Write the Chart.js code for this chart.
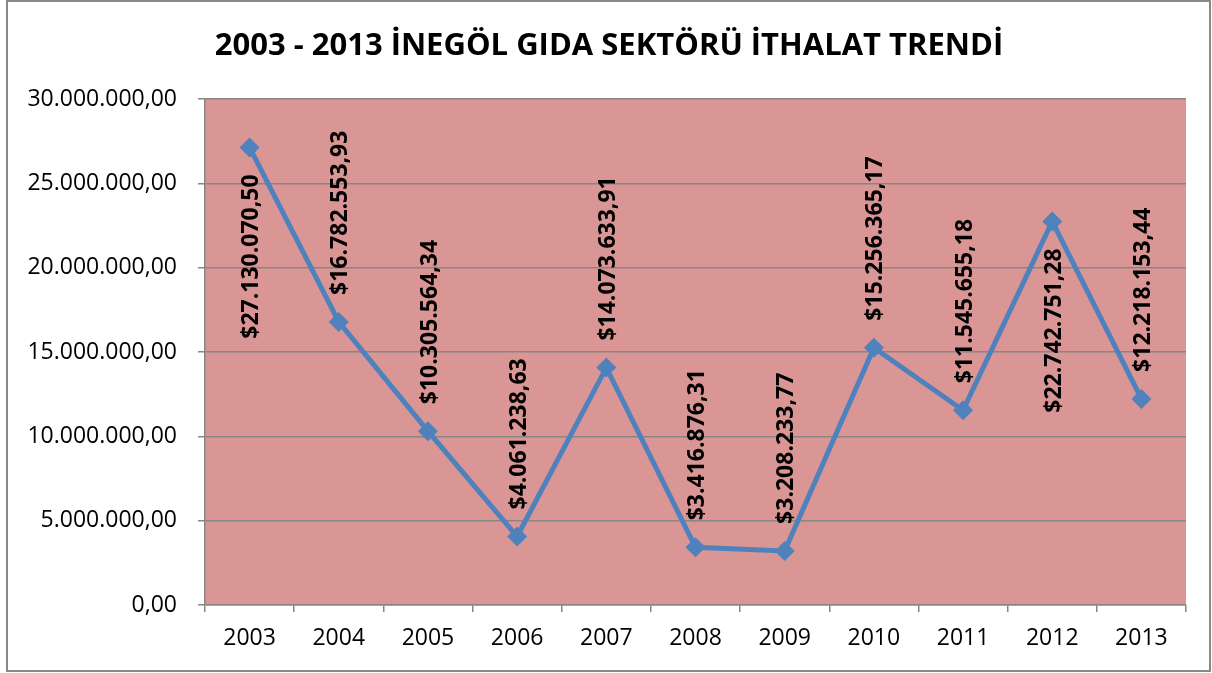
<!DOCTYPE html>
<html>
<head>
<meta charset="utf-8">
<script src="https://cdn.jsdelivr.net/npm/chart.js@4.4.1/dist/chart.umd.min.js"></script>
<style>
  body { margin: 0; background: #fff; overflow: hidden; }
  #wrap { width: 1212px; height: 673px; position: relative; }
</style>
</head>
<body>
<div id="wrap"><canvas id="trendChart"></canvas></div>
<script>
// yıllar ve ithalat değerleri (USD)
var years = ["2003", "2004", "2005", "2006", "2007", "2008", "2009", "2010", "2011", "2012", "2013"];
var importValues = [27130070.50, 16782553.93, 10305564.34, 4061238.63, 14073633.91, 3416876.31,
                    3208233.77, 15256365.17, 11545655.18, 22742751.28, 12218153.44];
var yMin = 0;
var yMax = 30000000;
var yStep = 5000000;
var chartTitle = "2003 - 2013 İNEGÖL GIDA SEKTÖRÜ İTHALAT TRENDİ";

function trNumber(v) {
    var parts = v.toFixed(2).split(".");
    var intPart = parts[0].replace(/\B(?=(\d{3})+(?!\d))/g, ".");
    return intPart + "," + parts[1];
}

var FONT = "'Open Sans', 'Liberation Sans', sans-serif";

// dış çerçeve + çizim alanı arka planı
var backgroundPlugin = {
    id: "background",
    afterLayout: function (chart) {
        // başlığı biraz sağa kaydır (orijinaldeki gibi)
        if (chart.titleBlock) chart.titleBlock.left = 32;
    },
    beforeDraw: function (chart) {
        var ctx = chart.ctx, a = chart.chartArea;
        ctx.save();
        ctx.strokeStyle = "#898989";
        ctx.lineWidth = 2;
        ctx.strokeRect(7, 1, 1203, 670);
        ctx.fillStyle = "#D99694";
        ctx.fillRect(a.left, a.top, a.right - a.left, a.bottom - a.top);
        ctx.restore();
    }
};

// dikey veri etiketleri
var labelPlugin = {
    id: "valueLabels",
    afterDatasetsDraw: function (chart) {
        var ctx = chart.ctx, a = chart.chartArea;
        var meta = chart.getDatasetMeta(0);
        ctx.save();
        ctx.font = "bold 23px " + FONT;
        ctx.fillStyle = "#000";
        ctx.textBaseline = "middle";
        meta.data.forEach(function (pt, i) {
            var txt = "$" + trNumber(importValues[i]);
            var w = ctx.measureText(txt).width;
            var gap = 27;
            var start;
            if (pt.y - gap - w >= a.top) {
                start = pt.y - gap;       // nokta üstünde
            } else {
                start = pt.y + gap + w;   // nokta altında
            }
            ctx.save();
            ctx.translate(pt.x + 2, start);
            ctx.rotate(-Math.PI / 2);
            ctx.textAlign = "left";
            ctx.fillText(txt, 0, 0);
            ctx.restore();
        });
        ctx.restore();
    }
};

var ctx = document.getElementById("trendChart").getContext("2d");
var chart = new Chart(ctx, {
    type: "line",
    data: {
        labels: years,
        datasets: [
            {
                label: "İthalat",
                data: importValues,
                borderColor: "#4F81BD",
                backgroundColor: "#4F81BD",
                borderWidth: 5,
                pointStyle: "rectRot",
                pointRadius: 10,
                pointHoverRadius: 10,
                pointBackgroundColor: "#4F81BD",
                pointBorderColor: "#4F81BD",
                pointBorderWidth: 0,
                tension: 0
            }
        ]
    },
    options: {
        responsive: true,
        maintainAspectRatio: false,
        animation: false,
        layout: { padding: { left: 8, right: 26, top: 0, bottom: 0 } },
        plugins: {
            legend: { display: false },
            tooltip: { enabled: false },
            title: {
                display: true,
                text: chartTitle,
                color: "#000",
                font: { family: FONT, size: 31, weight: "bold", lineHeight: 1.2 },
                padding: { top: 28, bottom: 33.8 }
            }
        },
        scales: {
            x: {
                offset: true,
                afterFit: function (scale) { scale.height = 68; },
                grid: {
                    offset: true,
                    drawOnChartArea: false,
                    drawTicks: true,
                    tickLength: 7,
                    color: "#868686",
                    lineWidth: 1.5
                },
                border: { display: true, color: "#868686", width: 1.5 },
                ticks: {
                    color: "#000",
                    padding: 13,
                    maxRotation: 0,
                    font: { family: FONT, size: 23 }
                }
            },
            y: {
                min: yMin,
                max: yMax,
                afterFit: function (scale) { scale.width = 197; },
                grid: {
                    color: "#868686",
                    lineWidth: 1.5,
                    drawTicks: true,
                    tickLength: 7
                },
                border: { display: true, color: "#868686", width: 1.5 },
                ticks: {
                    stepSize: yStep,
                    color: "#000",
                    padding: 21,
                    font: { family: FONT, size: 23 },
                    callback: function (v) { return trNumber(v); }
                }
            }
        }
    },
    plugins: [backgroundPlugin, labelPlugin]
});
</script>
</body>
</html>
